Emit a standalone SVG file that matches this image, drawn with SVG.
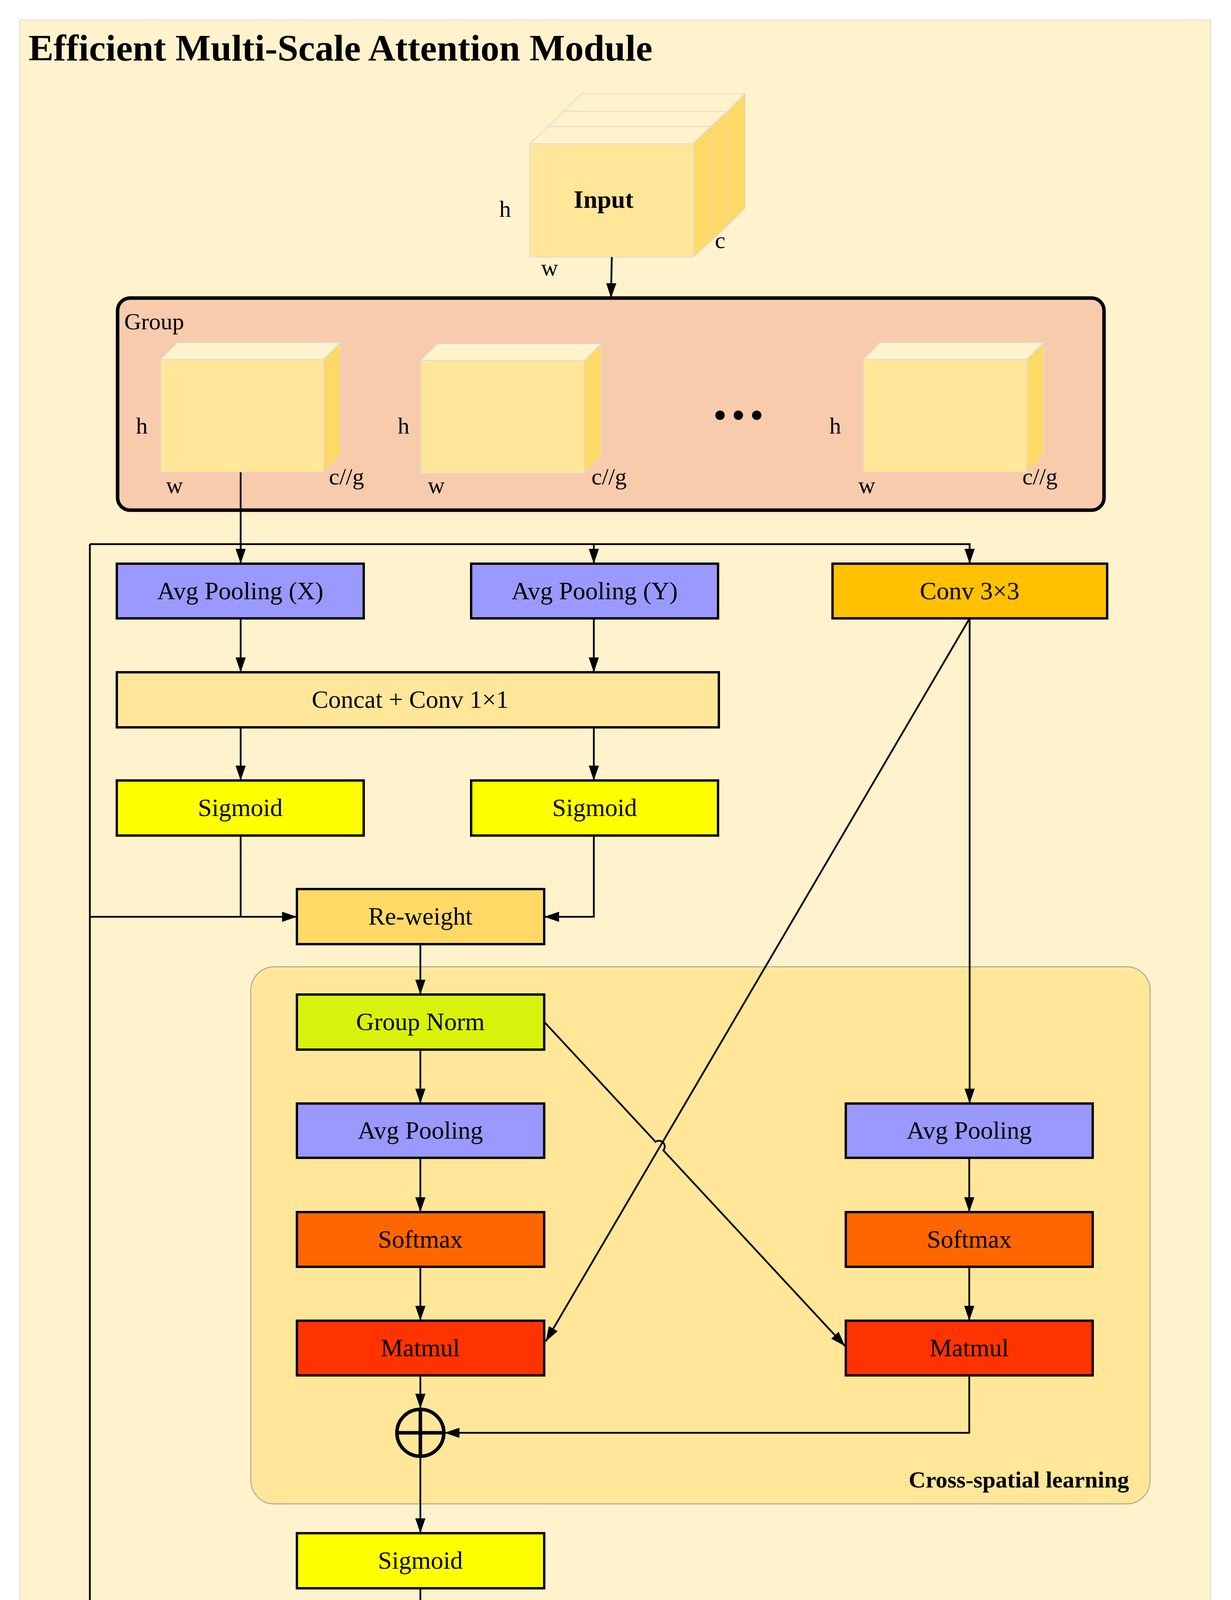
<svg xmlns="http://www.w3.org/2000/svg" width="3151" height="4608" viewBox="0 0 3151 4608">
<style>
.n{stroke:#000;stroke-width:6}
.t{font-family:"Liberation Serif",serif;font-size:64px;text-anchor:middle;fill:#000}
.l{font-family:"Liberation Serif",serif;font-size:60px;fill:#000}
.c{fill:none;stroke:#000;stroke-width:4.5}
.front{fill:#FFE699;stroke:#D9D9D9;stroke-width:2}
.top{fill:#FFF2CC;stroke:#D9D9D9;stroke-width:2}
.side{fill:#FFD966;stroke:#D9D9D9;stroke-width:2}
</style>
<defs>
<marker id="a" markerUnits="userSpaceOnUse" markerWidth="40" markerHeight="30" refX="38" refY="13" orient="auto"><path d="M0,0 L38,13 L0,26 Z" fill="#000"/></marker>
</defs>
<rect width="3151" height="4608" fill="#fff"/>
<rect x="50" y="51" width="3049" height="4504" fill="#FFF2CC" stroke="#D9D9D9" stroke-width="2"/>
<text x="73" y="155" style="font-family:'Liberation Serif',serif;font-size:96px;font-weight:bold">Efficient Multi-Scale Attention Module</text>

<g id="input">
<polygon class="top" points="1488,240 1907,240 1862,285 1443,285"/>
<polygon class="top" points="1443,285 1862,285 1819,324 1403,324"/>
<polygon class="top" points="1403,324 1819,324 1775,368 1356,368"/>
<polygon class="side" points="1907,240 1907,533 1862,578 1862,285"/>
<polygon class="side" points="1862,285 1862,578 1819,618 1819,324"/>
<polygon class="side" points="1819,324 1819,618 1775,658 1775,368"/>
<rect class="front" x="1356" y="368" width="419" height="290"/>
<text x="1545" y="532" class="t" style="font-weight:bold">Input</text>
<text x="1278" y="555" class="l">h</text>
<text x="1830" y="635" class="l">c</text>
<text x="1385" y="705" class="l">w</text>
</g>

<g id="group">
<rect x="301" y="763" width="2525" height="543" rx="32" fill="#F8CBAD" stroke="#000" stroke-width="9"/>
<text x="318" y="843" class="l">Group</text>
<polygon class="top" points="411,920 829,920 872,877 454,877"/>
<polygon class="side" points="829,920 872,877 872,1166 829,1209"/>
<rect class="front" x="411" y="920" width="418" height="289"/>
<text x="348" y="1110" class="l">h</text>
<text x="425" y="1262" class="l">w</text>
<text x="842" y="1240" class="l">c//g</text>
<polygon class="top" points="1077,923 1496,923 1539,880 1120,880"/>
<polygon class="side" points="1496,923 1539,880 1539,1169 1496,1212"/>
<rect class="front" x="1077" y="923" width="419" height="289"/>
<text x="1018" y="1110" class="l">h</text>
<text x="1095" y="1262" class="l">w</text>
<text x="1514" y="1240" class="l">c//g</text>
<polygon class="top" points="2210,920 2629,920 2672,877 2253,877"/>
<polygon class="side" points="2629,920 2672,877 2672,1166 2629,1209"/>
<rect class="front" x="2210" y="920" width="419" height="289"/>
<text x="2123" y="1110" class="l">h</text>
<text x="2197" y="1262" class="l">w</text>
<text x="2617" y="1240" class="l">c//g</text>
<circle cx="1843" cy="1063" r="12"/><circle cx="1890" cy="1063" r="12"/><circle cx="1937" cy="1063" r="12"/>
</g>

<g id="cross">
<rect x="642" y="2475" width="2302" height="1375" rx="60" fill="#FFE699" stroke="#999" stroke-width="2"/>
<text x="2890" y="3808" class="l" style="text-anchor:end;font-weight:bold">Cross-spatial learning</text>
</g>

<g id="avgx"><rect class="n" x="299" y="1443" width="632" height="140" fill="#9999FF"/><text class="t" x="615" y="1534">Avg Pooling (X)</text></g>
<g id="avgy"><rect class="n" x="1206" y="1443" width="632" height="140" fill="#9999FF"/><text class="t" x="1522" y="1534">Avg Pooling (Y)</text></g>
<g id="conv3"><rect class="n" x="2131" y="1443" width="703" height="140" fill="#FFC000"/><text class="t" x="2482" y="1534">Conv 3×3</text></g>
<g id="concat"><rect class="n" x="299" y="1721" width="1541" height="141" fill="#FFE699"/><text class="t" x="1050" y="1812">Concat + Conv 1×1</text></g>
<g id="sig1"><rect class="n" x="299" y="1998" width="632" height="141" fill="#FFFF00"/><text class="t" x="615" y="2089">Sigmoid</text></g>
<g id="sig2"><rect class="n" x="1206" y="1998" width="632" height="141" fill="#FFFF00"/><text class="t" x="1522" y="2089">Sigmoid</text></g>
<g id="rew1"><rect class="n" x="760" y="2276" width="633" height="141" fill="#FFD966"/><text class="t" x="1076" y="2367">Re-weight</text></g>
<g id="gn"><rect class="n" x="760" y="2546" width="633" height="141" fill="#D9F20B"/><text class="t" x="1076" y="2637">Group Norm</text></g>
<g id="avgl"><rect class="n" x="760" y="2825" width="633" height="139" fill="#9999FF"/><text class="t" x="1076" y="2915">Avg Pooling</text></g>
<g id="avgr"><rect class="n" x="2165" y="2825" width="632" height="139" fill="#9999FF"/><text class="t" x="2481" y="2915">Avg Pooling</text></g>
<g id="sml"><rect class="n" x="760" y="3103" width="633" height="140" fill="#FF6600"/><text class="t" x="1076" y="3194">Softmax</text></g>
<g id="smr"><rect class="n" x="2165" y="3103" width="632" height="140" fill="#FF6600"/><text class="t" x="2481" y="3194">Softmax</text></g>
<g id="mml"><rect class="n" x="760" y="3381" width="633" height="140" fill="#FF3300"/><text class="t" x="1076" y="3472">Matmul</text></g>
<g id="mmr"><rect class="n" x="2165" y="3381" width="632" height="140" fill="#FF3300"/><text class="t" x="2481" y="3472">Matmul</text></g>
<g id="plus"><circle cx="1076" cy="3668" r="60" fill="none" stroke="#000" stroke-width="9"/><path d="M1016,3668 H1136 M1076,3608 V3728" stroke="#000" stroke-width="9"/></g>
<g id="sig3"><rect class="n" x="760" y="3925" width="633" height="141" fill="#FFFF00"/><text class="t" x="1076" y="4016">Sigmoid</text></g>
<g id="rew2"><rect class="n" x="760" y="4203" width="633" height="141" fill="#FFD966"/><text class="t" x="1076" y="4294">Re-weight</text></g>

<g id="connectors">
<path class="c" d="M1566,658 L1564,763" marker-end="url(#a)"/>
<path class="c" d="M616,1209 V1443" marker-end="url(#a)"/>
<path class="c" d="M230,1393 H2482 V1443" marker-end="url(#a)"/>
<path class="c" d="M1520,1393 V1443" marker-end="url(#a)"/>
<path class="c" d="M616,1583 V1721" marker-end="url(#a)"/>
<path class="c" d="M1520,1583 V1721" marker-end="url(#a)"/>
<path class="c" d="M616,1862 V1998" marker-end="url(#a)"/>
<path class="c" d="M1520,1862 V1998" marker-end="url(#a)"/>
<path class="c" d="M616,2139 V2347"/>
<path class="c" d="M230,1393 V4274 H760" marker-end="url(#a)"/>
<path class="c" d="M230,2347 H760" marker-end="url(#a)"/>
<path class="c" d="M1520,2139 V2347 H1393" marker-end="url(#a)"/>
<path class="c" d="M1076,2417 V2546" marker-end="url(#a)"/>
<path class="c" d="M1076,2687 V2825" marker-end="url(#a)"/>
<path class="c" d="M2482,1583 V2825" marker-end="url(#a)"/>
<path class="c" d="M1076,2964 V3103" marker-end="url(#a)"/>
<path class="c" d="M2481,2964 V3103" marker-end="url(#a)"/>
<path class="c" d="M1076,3243 V3381" marker-end="url(#a)"/>
<path class="c" d="M2481,3243 V3381" marker-end="url(#a)"/>
<path class="c" d="M2482,1583 L1397,3434" marker-end="url(#a)"/>
<path class="c" d="M1393,2616 L1678,2923 A15,15 0 0 1 1698,2945 L2163,3446" marker-end="url(#a)"/>
<path class="c" d="M1076,3521 V3606" marker-end="url(#a)"/>
<path class="c" d="M2481,3521 V3668 H1138" marker-end="url(#a)"/>
<path class="c" d="M1076,3728 V3925" marker-end="url(#a)"/>
<path class="c" d="M1076,4066 V4203" marker-end="url(#a)"/>
<path class="c" d="M1076,4344 V4464" marker-end="url(#a)"/>
</g>
</svg>
